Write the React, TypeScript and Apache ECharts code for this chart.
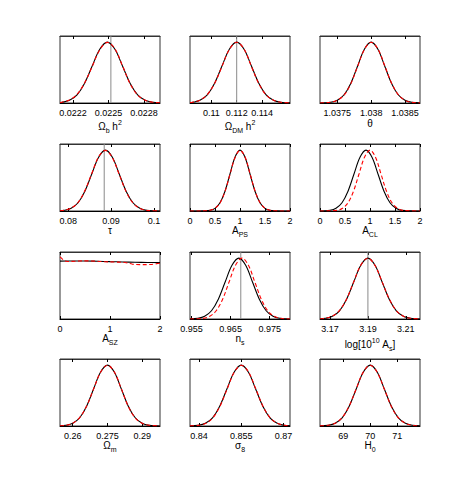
import React, { useEffect, useRef } from "react";
import * as echarts from "echarts";

// ---------- data ----------
// Panel 1: Omega_b h^2
const omegaB_x = [0.02209, 0.022106, 0.02217, 0.022234, 0.022298, 0.022362, 0.022426, 0.02249, 0.022554, 0.022618, 0.022682, 0.022746, 0.02281, 0.022874, 0.022935];
const omegaB_black = [0.007, 0.011, 0.044, 0.135, 0.325, 0.607, 0.882, 1.0, 0.882, 0.607, 0.325, 0.135, 0.044, 0.011, 0.003];
const omegaB_red = [0.008, 0.013, 0.05, 0.142, 0.33, 0.6, 0.872, 0.995, 0.89, 0.612, 0.318, 0.13, 0.047, 0.012, 0.003];
const omegaB_ticks = [0.0222, 0.0225, 0.0228];

// Panel 2: Omega_DM h^2
const omegaDM_x = [0.10832, 0.10852, 0.1091, 0.10968, 0.11026, 0.11084, 0.11142, 0.112, 0.11258, 0.11316, 0.11374, 0.11432, 0.1149, 0.11548, 0.1162];
const omegaDM_black = [0.007, 0.011, 0.044, 0.135, 0.325, 0.607, 0.882, 1.0, 0.882, 0.607, 0.325, 0.135, 0.044, 0.011, 0.002];
const omegaDM_red = [0.008, 0.013, 0.047, 0.138, 0.322, 0.6, 0.878, 0.998, 0.886, 0.6, 0.318, 0.132, 0.046, 0.012, 0.002];
const omegaDM_ticks = [0.11, 0.112, 0.114];

// Panel 3: theta
const theta_x = [1.037244, 1.0374, 1.0375, 1.0376, 1.0377, 1.0378, 1.0379, 1.038, 1.0381, 1.0382, 1.0383, 1.0384, 1.0385, 1.0386, 1.038722];
const theta_black = [0.001, 0.011, 0.044, 0.135, 0.325, 0.607, 0.882, 1.0, 0.882, 0.607, 0.325, 0.135, 0.044, 0.011, 0.002];
const theta_red = [0.001, 0.012, 0.046, 0.13, 0.318, 0.6, 0.878, 0.998, 0.888, 0.615, 0.33, 0.138, 0.045, 0.011, 0.002];
const theta_ticks = [1.0375, 1.038, 1.0385];

// Panel 4: tau
const tau_x = [0.0781, 0.0791, 0.0807, 0.0823, 0.0839, 0.0855, 0.0871, 0.0887, 0.0903, 0.0919, 0.0935, 0.0951, 0.0967, 0.0983, 0.1014];
const tau_black = [0.004, 0.011, 0.044, 0.135, 0.325, 0.607, 0.882, 1.0, 0.882, 0.607, 0.325, 0.135, 0.044, 0.011, 0.001];
const tau_red = [0.005, 0.012, 0.048, 0.14, 0.335, 0.615, 0.89, 0.995, 0.875, 0.6, 0.32, 0.132, 0.043, 0.011, 0.001];
const tau_ticks = [0.08, 0.09, 0.1];

// Panel 5: A_PS
const aps_x = [0, 0.3, 0.4, 0.5, 0.6, 0.7, 0.8, 0.9, 1.0, 1.1, 1.2, 1.3, 1.4, 1.5, 1.6, 1.7, 2];
const aps_black = [0, 0.003, 0.011, 0.044, 0.135, 0.325, 0.607, 0.882, 1.0, 0.882, 0.607, 0.325, 0.135, 0.044, 0.011, 0.003, 0];
const aps_red = [0, 0.003, 0.012, 0.046, 0.13, 0.32, 0.6, 0.875, 0.995, 0.89, 0.615, 0.33, 0.14, 0.046, 0.012, 0.003, 0];
const aps_ticks = [0, 0.5, 1, 1.5, 2];

// Panel 6: A_CL
const acl_blackX = [0, 0.2, 0.32, 0.44, 0.56, 0.68, 0.8, 0.92, 1.04, 1.16, 1.28, 1.4, 1.52, 1.64, 2];
const acl_black = [0, 0.011, 0.044, 0.135, 0.325, 0.607, 0.882, 1.0, 0.882, 0.607, 0.325, 0.135, 0.044, 0.011, 0];
const acl_redX = [0, 0.34, 0.45, 0.56, 0.67, 0.78, 0.89, 1.0, 1.11, 1.22, 1.33, 1.44, 1.55, 1.66, 2];
const acl_red = [0, 0.011, 0.044, 0.135, 0.325, 0.607, 0.882, 1.0, 0.882, 0.607, 0.325, 0.135, 0.044, 0.011, 0];
const acl_ticks = [0, 0.5, 1, 1.5, 2];

// Panel 7: A_SZ
const asz_blackX = [0, 0.25, 0.5, 0.75, 1.0, 1.25, 1.5, 1.75, 2.0];
const asz_black = [0.95, 0.952, 0.953, 0.948, 0.942, 0.937, 0.932, 0.928, 0.925];
const asz_redX = [0, 0.03, 0.08, 0.15, 0.3, 0.5, 0.7, 0.9, 1.1, 1.3, 1.45, 1.6, 1.8, 2.0];
const asz_red = [1.02, 1.0, 0.96, 0.945, 0.948, 0.955, 0.95, 0.94, 0.935, 0.928, 0.9, 0.892, 0.895, 0.915];
const asz_ticks = [0, 1, 2];

// Panel 8: n_s
const ns_blackX = [0.9546, 0.9566, 0.95835, 0.9601, 0.96185, 0.9636, 0.96535, 0.9671, 0.96885, 0.9706, 0.97235, 0.9741, 0.97585, 0.9776, 0.9802];
const ns_black = [0.002, 0.011, 0.044, 0.135, 0.325, 0.607, 0.882, 1.0, 0.882, 0.607, 0.325, 0.135, 0.044, 0.011, 0.001];
const ns_redX = [0.9546, 0.958, 0.95965, 0.9613, 0.96295, 0.9646, 0.96625, 0.9679, 0.96955, 0.9712, 0.97285, 0.9745, 0.97615, 0.9778, 0.9802];
const ns_red = [0.0005, 0.011, 0.044, 0.135, 0.325, 0.607, 0.882, 1.0, 0.882, 0.607, 0.325, 0.135, 0.044, 0.011, 0.001];
const ns_ticks = [0.955, 0.965, 0.975];

// Panel 9: log[10^10 A_s]
const las_x = [3.1647, 3.1675, 3.17125, 3.175, 3.17875, 3.1825, 3.18625, 3.19, 3.19375, 3.1975, 3.20125, 3.205, 3.20875, 3.2125, 3.2175];
const las_black = [0.003, 0.011, 0.044, 0.135, 0.325, 0.607, 0.882, 1.0, 0.882, 0.607, 0.325, 0.135, 0.044, 0.011, 0.001];
const las_red = [0.003, 0.012, 0.047, 0.14, 0.33, 0.61, 0.885, 0.997, 0.878, 0.61, 0.33, 0.138, 0.045, 0.011, 0.001];
const las_ticks = [3.17, 3.19, 3.21];

// Panel 10: Omega_m
const om_x = [0.2545, 0.257, 0.26, 0.263, 0.266, 0.269, 0.272, 0.275, 0.278, 0.281, 0.284, 0.287, 0.29, 0.293, 0.2977];
const om_black = [0.003, 0.011, 0.044, 0.135, 0.325, 0.607, 0.882, 1.0, 0.882, 0.607, 0.325, 0.135, 0.044, 0.011, 0.001];
const om_red = [0.003, 0.012, 0.046, 0.138, 0.328, 0.605, 0.88, 0.998, 0.885, 0.61, 0.322, 0.132, 0.045, 0.012, 0.001];
const om_ticks = [0.26, 0.275, 0.29];

// Panel 11: sigma_8
const s8_x = [0.8368, 0.8397, 0.84225, 0.8448, 0.84735, 0.8499, 0.85245, 0.855, 0.85755, 0.8601, 0.86265, 0.8652, 0.86775, 0.8703, 0.8723];
const s8_black = [0.002, 0.011, 0.044, 0.135, 0.325, 0.607, 0.882, 1.0, 0.882, 0.607, 0.325, 0.135, 0.044, 0.011, 0.003];
const s8_red = [0.002, 0.01, 0.04, 0.128, 0.315, 0.598, 0.878, 0.998, 0.888, 0.615, 0.33, 0.138, 0.046, 0.012, 0.003];
const s8_ticks = [0.84, 0.855, 0.87];

// Panel 12: H_0
const h0_x = [68.14, 68.44, 68.7, 68.96, 69.22, 69.48, 69.74, 70, 70.26, 70.52, 70.78, 71.04, 71.3, 71.56, 71.84];
const h0_black = [0.002, 0.011, 0.044, 0.135, 0.325, 0.607, 0.882, 1.0, 0.882, 0.607, 0.325, 0.135, 0.044, 0.011, 0.002];
const h0_red = [0.002, 0.012, 0.046, 0.138, 0.33, 0.61, 0.885, 0.998, 0.88, 0.605, 0.322, 0.134, 0.044, 0.011, 0.002];
const h0_ticks = [69, 70, 71];

// ---------- panel configuration ----------
type Panel = {
  bx: number[]; by: number[]; rx: number[]; ry: number[];
  min: number; max: number; ticks: number[];
  name: string; gap: number; vline?: number;
};

const panels: Panel[] = [
  { bx: omegaB_x, by: omegaB_black, rx: omegaB_x, ry: omegaB_red, min: 0.02209, max: 0.022935, ticks: omegaB_ticks, name: "{m|Ω}{sub|b}{m| h}{sup|2}", gap: 16, vline: 0.02252 },
  { bx: omegaDM_x, by: omegaDM_black, rx: omegaDM_x, ry: omegaDM_red, min: 0.10832, max: 0.1162, ticks: omegaDM_ticks, name: "{m|Ω}{sub|DM}{m| h}{sup|2}", gap: 16, vline: 0.112 },
  { bx: theta_x, by: theta_black, rx: theta_x, ry: theta_red, min: 1.037244, max: 1.038722, ticks: theta_ticks, name: "{m|θ}", gap: 13 },
  { bx: tau_x, by: tau_black, rx: tau_x, ry: tau_red, min: 0.0781, max: 0.1014, ticks: tau_ticks, name: "{m|τ}", gap: 10, vline: 0.0884 },
  { bx: aps_x, by: aps_black, rx: aps_x, ry: aps_red, min: 0, max: 2, ticks: aps_ticks, name: "{m|A}{sub|PS}", gap: 9 },
  { bx: acl_blackX, by: acl_black, rx: acl_redX, ry: acl_red, min: 0, max: 2, ticks: acl_ticks, name: "{m|A}{sub|CL}", gap: 10 },
  { bx: asz_blackX, by: asz_black, rx: asz_redX, ry: asz_red, min: 0, max: 2, ticks: asz_ticks, name: "{m|A}{sub|SZ}", gap: 8 },
  { bx: ns_blackX, by: ns_black, rx: ns_redX, ry: ns_red, min: 0.9546, max: 0.9802, ticks: ns_ticks, name: "{m|n}{sub|s}", gap: 8, vline: 0.9676 },
  { bx: las_x, by: las_black, rx: las_x, ry: las_red, min: 3.1647, max: 3.2175, ticks: las_ticks, name: "{m|log[10}{sup|10}{m| A}{sub|s}{m|]}", gap: 18, vline: 3.19 },
  { bx: om_x, by: om_black, rx: om_x, ry: om_red, min: 0.2545, max: 0.2977, ticks: om_ticks, name: "{m|Ω}{sub|m}", gap: 9 },
  { bx: s8_x, by: s8_black, rx: s8_x, ry: s8_red, min: 0.8368, max: 0.8723, ticks: s8_ticks, name: "{m|σ}{sub|8}", gap: 9 },
  { bx: h0_x, by: h0_black, rx: h0_x, ry: h0_red, min: 68.14, max: 71.84, ticks: h0_ticks, name: "{m|H}{sub|0}", gap: 9 },
];

const COL_LEFT = [60, 190, 320];
const ROW_TOP = [36, 144, 252, 359];
const PANEL_W = 100;
const PANEL_H = 67;
const Y_MAX = 1.1;
const FONT = "'Liberation Sans Narrow', 'Liberation Sans', Arial, sans-serif";

function fmt(v: number): string {
  return String(parseFloat(v.toFixed(6)));
}

function buildOption() {
  const grid: any[] = [];
  const xAxis: any[] = [];
  const yAxis: any[] = [];
  const series: any[] = [];

  panels.forEach((p, i) => {
    const col = i % 3;
    const row = Math.floor(i / 3);
    grid.push({
      left: COL_LEFT[col],
      top: ROW_TOP[row],
      width: PANEL_W,
      height: PANEL_H,
      show: true,
      borderColor: "#333",
      borderWidth: 1,
      backgroundColor: "transparent",
    });
    xAxis.push({
      type: "value",
      gridIndex: i,
      min: p.min,
      max: p.max,
      position: "bottom",
      axisLine: { show: true, onZero: false, lineStyle: { color: "#000", width: 1 } },
      axisTick: { show: true, inside: true, length: 3, customValues: p.ticks, lineStyle: { color: "#000", width: 1 } },
      axisLabel: {
        show: true,
        customValues: p.ticks,
        margin: 5,
        fontSize: 9,
        color: "#000",
        fontFamily: FONT,
        formatter: (v: number) => fmt(v),
      },
      splitLine: { show: false },
      name: p.name,
      nameLocation: "middle",
      nameGap: p.gap,
      nameTextStyle: {
        color: "#000",
        fontFamily: FONT,
        fontSize: 10,
        rich: {
          m: { fontSize: 10, lineHeight: 15, fontFamily: FONT, color: "#000" },
          sub: { fontSize: 7, lineHeight: 7, verticalAlign: "bottom", fontFamily: FONT, color: "#000" },
          sup: { fontSize: 7, lineHeight: 7, verticalAlign: "top", fontFamily: FONT, color: "#000" },
        },
      },
    });
    xAxis.push({
      type: "value",
      gridIndex: i,
      min: p.min,
      max: p.max,
      position: "top",
      axisLine: { show: true, onZero: false, lineStyle: { color: "#333", width: 1 } },
      axisTick: { show: true, inside: true, length: 3, customValues: p.ticks, lineStyle: { color: "#000", width: 1 } },
      axisLabel: { show: false },
      splitLine: { show: false },
    });
    yAxis.push({
      type: "value",
      gridIndex: i,
      min: 0,
      max: Y_MAX,
      show: false,
      splitLine: { show: false },
    });

    if (p.vline !== undefined) {
      series.push({
        type: "line",
        xAxisIndex: i * 2,
        yAxisIndex: i,
        data: [[p.vline, 0], [p.vline, Y_MAX]],
        showSymbol: false,
        symbol: "none",
        silent: true,
        lineStyle: { color: "#8a8a8a", width: 1 },
        z: 1,
      });
    }
    series.push({
      type: "line",
      xAxisIndex: i * 2,
      yAxisIndex: i,
      data: p.bx.map((x, j) => [x, p.by[j]]),
      smooth: 0.35,
      showSymbol: false,
      symbol: "none",
      lineStyle: { color: "#000", width: 1.1 },
      z: 3,
    });
    series.push({
      type: "line",
      xAxisIndex: i * 2,
      yAxisIndex: i,
      data: p.rx.map((x, j) => [x, p.ry[j]]),
      smooth: 0.35,
      showSymbol: false,
      symbol: "none",
      lineStyle: { color: "#ff0000", width: 1.1, type: [4, 2.5] },
      z: 4,
    });
  });

  return {
    animation: false,
    backgroundColor: "#fff",
    grid,
    xAxis,
    yAxis,
    series,
  };
}

export default function App() {
  const ref = useRef<HTMLDivElement>(null);
  useEffect(() => {
    if (!ref.current) return;
    const chart = echarts.init(ref.current, undefined, { renderer: "svg" });
    chart.setOption(buildOption() as any);
    return () => chart.dispose();
  }, []);
  return (
    <div
      ref={ref}
      style={{ position: "fixed", left: 0, top: 0, width: 463, height: 491, background: "#fff" }}
    />
  );
}
